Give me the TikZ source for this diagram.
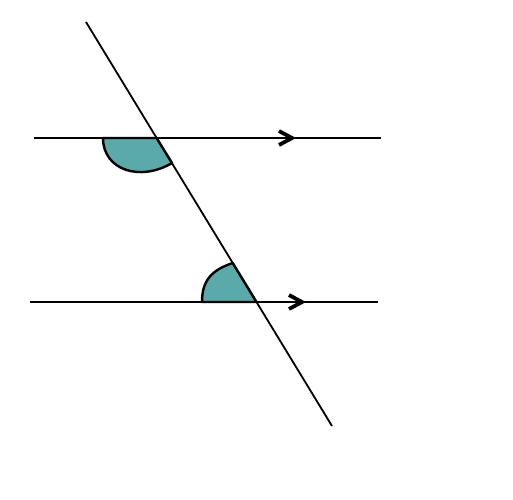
\documentclass[tikz,border=0pt]{standalone}
\definecolor{angfill}{RGB}{91,170,170}
\tikzset{
  lineseg/.style={line width=1.8pt, black},
  anglefill/.style={fill=angfill, draw=black, line width=2.4pt, line join=round},
  chevron/.style={line width=3.8pt, black, line join=miter}
}
\begin{document}
\begin{tikzpicture}[x=1pt,y=-1pt]
\useasboundingbox (0,0) rectangle (513,499);
\coordinate (T1) at (86,22);
\coordinate (T2) at (332,426);
\coordinate (L1a) at (34,138);
\coordinate (L1b) at (381,138);
\coordinate (L2a) at (30,302);
\coordinate (L2b) at (378,302);
\coordinate (P1) at (156.6,138);
\coordinate (P2) at (256.5,302);
% angle sectors
\path[anglefill] (103,138) .. controls (103,170) and (140,182) .. (172,163) -- (P1) -- cycle;
\path[anglefill] (202,302) .. controls (202,280) and (212,270) .. (232.7,263) -- (P2) -- cycle;
% lines
\draw[lineseg] (L1a) -- (L1b);
\draw[lineseg] (L2a) -- (L2b);
\draw[lineseg] (T1) -- (T2);
% arrow chevrons
\coordinate (A1) at (292,138);
\coordinate (A2) at (302,302);
\draw[chevron] ([shift={(-13,-7)}]A1) -- (A1) -- ([shift={(-13,7)}]A1);
\draw[chevron] ([shift={(-13,-7)}]A2) -- (A2) -- ([shift={(-13,7)}]A2);
\end{tikzpicture}
\end{document}
